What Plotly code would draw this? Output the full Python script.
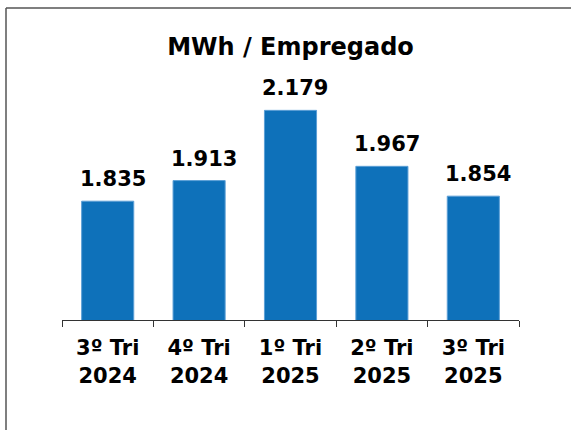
import plotly.graph_objects as go

categories = ["3º Tri<br>2024", "4º Tri<br>2024", "1º Tri<br>2025", "2º Tri<br>2025", "3º Tri<br>2025"]
values = [1835, 1913, 2179, 1967, 1854]
labels = ["1.835", "1.913", "2.179", "1.967", "1.854"]
title_text = "MWh / Empregado"

FONT = "DejaVu Sans, Verdana, sans-serif"

fig = go.Figure()
fig.add_trace(go.Bar(
    x=categories, y=values,
    marker=dict(color="#0E71BA", line=dict(color="#5C9FD6", width=1)),
    hoverinfo="skip",
))

L, R, T, B = 62, 52, 80, 110
W, H = 571, 430
pw, ph = W - L - R, H - T - B
bargap = 0.43
bar_px = pw / len(categories) * (1 - bargap)

annotations = [
    dict(x=c, y=v, xref="x", yref="y", text="<b>" + t + "</b>", showarrow=False,
         xanchor="left", yanchor="bottom", xshift=-bar_px / 2 - 4, yshift=8,
         font=dict(family=FONT, size=21, color="#000000"))
    for c, v, t in zip(categories, values, labels)
]

fig.update_layout(
    width=W, height=H,
    margin=dict(l=L, r=R, t=T, b=B, pad=0),
    paper_bgcolor="white", plot_bgcolor="white",
    showlegend=False,
    bargap=bargap,
    title=dict(text="<b>" + title_text + "</b>", x=(L + pw / 2) / W, xanchor="center",
               y=1 - 47 / H, yanchor="middle",
               font=dict(family=FONT, size=24, color="#000000")),
    xaxis=dict(
        showline=True, linecolor="#333333", linewidth=1,
        ticks="outside", ticklen=6, tickcolor="#333333", tickwidth=1,
        tickson="boundaries", showgrid=False, ticklabelstandoff=9,
        tickfont=dict(family=FONT, size=21, color="#000000", weight="bold"),
    ),
    yaxis=dict(range=[1385, 2294], visible=False, showgrid=False, zeroline=False),
    annotations=annotations,
    shapes=[
        dict(type="line", xref="paper", yref="paper",
             x0=(6 - L) / pw, x1=(W - L) / pw, y0=(H - B - 8) / ph, y1=(H - B - 8) / ph,
             line=dict(color="#555555", width=1.5)),
        dict(type="line", xref="paper", yref="paper",
             x0=(6 - L) / pw, x1=(6 - L) / pw, y0=(H - B - 8) / ph, y1=-B / ph,
             line=dict(color="#555555", width=1.5)),
    ],
)

fig.write_html("out.html", config={"displayModeBar": False, "staticPlot": True},
               post_script="document.body.style.margin='0';document.body.style.overflow='hidden';")
